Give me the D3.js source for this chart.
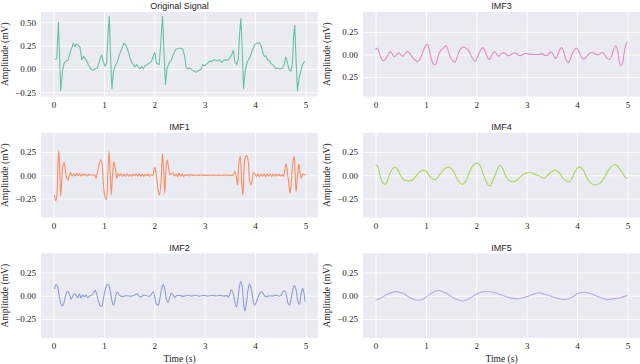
<!DOCTYPE html>
<html>
<head>
<meta charset="utf-8">
<style>
body { margin: 0; background: #fff; }
.grid line { stroke: #fff; stroke-width: 0.9; }
.grid path { display: none; }
.axis path { display: none; }
.axis text { font-family: "Liberation Serif", "DejaVu Serif", serif; font-size: 9px; fill: #262626; }
.title { font-family: "Liberation Sans", "DejaVu Sans", sans-serif; font-size: 9px; fill: #262626; }
.label { font-family: "Liberation Serif", "DejaVu Serif", serif; font-size: 9.5px; fill: #262626; }
</style>
</head>
<body>
<svg width="640" height="364"></svg>
<script src="https://cdn.jsdelivr.net/npm/d3@7"></script>
<script>
// values, [time (s), amplitude (mV)]
var original = [
  [0.017,0.106],[0.063,0.106],[0.096,0.50],[0.142,-0.236],[0.175,-0.025],[0.208,0.063],[0.248,0.081],[0.294,0.099],
  [0.314,0.151],[0.347,0.204],[0.393,0.275],[0.419,0.239],[0.446,0.268],[0.492,0.257],[0.525,0.232],[0.558,0.099],
  [0.591,0.134],[0.644,0.099],[0.690,0.046],[0.736,0.0],[0.776,-0.014],[0.822,0.0],[0.868,0.011],[0.908,0.081],
  [0.954,0.151],[0.987,0.081],[1.020,0.028],[1.053,0.063],[1.086,0.415],[1.106,0.563],[1.132,0.134],[1.158,-0.211],
  [1.185,-0.042],[1.218,0.028],[1.264,0.070],[1.304,0.151],[1.350,0.211],[1.396,0.275],[1.436,0.257],[1.482,0.187],
  [1.528,0.099],[1.581,0.046],[1.614,0.021],[1.647,0.046],[1.680,0.021],[1.713,0.0],[1.746,0.028],[1.779,0.0],
  [1.812,0.035],[1.858,0.046],[1.898,0.063],[1.944,0.081],[1.977,0.134],[2.010,0.176],[2.043,0.063],[2.096,0.046],
  [2.129,0.275],[2.162,0.563],[2.188,0.239],[2.221,-0.165],[2.254,0.011],[2.294,0.063],[2.340,0.099],[2.373,0.151],
  [2.419,0.204],[2.472,0.222],[2.531,0.222],[2.564,0.211],[2.597,0.151],[2.630,0.021],[2.663,0.0],[2.696,0.011],
  [2.743,-0.007],[2.795,-0.025],[2.828,-0.035],[2.875,-0.018],[2.927,-0.007],[2.960,0.046],[3.007,0.035],[3.046,0.056],
  [3.092,0.081],[3.139,0.081],[3.191,0.099],[3.244,0.088],[3.290,0.099],[3.337,0.070],[3.389,0.099],[3.442,0.092],
  [3.488,0.106],[3.535,0.151],[3.568,0.197],[3.601,0.081],[3.635,0.046],[3.667,0.099],[3.693,0.380],[3.719,0.539],
  [3.746,0.204],[3.772,-0.211],[3.805,-0.025],[3.838,0.063],[3.871,0.099],[3.904,0.134],[3.950,0.204],[3.997,0.264],
  [4.036,0.275],[4.083,0.282],[4.116,0.257],[4.149,0.187],[4.182,0.134],[4.214,0.141],[4.248,0.099],[4.281,0.092],
  [4.314,0.063],[4.347,0.046],[4.380,0.028],[4.413,0.0],[4.446,0.011],[4.498,0.0],[4.545,0.011],[4.578,0.046],
  [4.611,0.127],[4.644,0.063],[4.677,-0.007],[4.710,-0.025],[4.743,0.063],[4.769,0.380],[4.789,0.468],[4.809,0.169],
  [4.842,-0.236],[4.875,-0.095],[4.908,-0.025],[4.941,0.046],[4.974,0.074],[5.0,0.081]
];
var imf1 = [
  [0.017,-0.214],[0.043,-0.275],[0.063,-0.232],[0.083,0.058],[0.102,0.268],[0.122,0.058],[0.142,-0.225],[0.162,-0.051],
  [0.182,0.094],[0.208,0.138],[0.234,0.058],[0.261,-0.033],[0.287,-0.051],[0.314,0.004],[0.340,0.029],[0.366,-0.007],
  [0.40,0.015],[0.43,-0.01],[0.46,0.02],[0.49,-0.005],[0.52,0.018],[0.55,-0.01],[0.58,0.015],[0.61,0.0],[0.64,0.012],
  [0.67,-0.008],[0.70,0.01],[0.73,0.0],[0.76,0.008],[0.79,0.0],[0.82,0.004],
  [0.842,-0.033],[0.868,0.022],[0.894,0.094],[0.934,0.167],[0.960,0.130],[0.987,-0.087],[1.020,-0.232],[1.046,-0.261],
  [1.073,-0.051],[1.099,0.257],[1.125,0.022],[1.145,-0.214],[1.172,0.022],[1.198,0.141],[1.224,0.076],[1.257,-0.033],
  [1.284,0.022],[1.31,-0.01],[1.34,0.015],[1.37,-0.012],[1.40,0.012],[1.43,-0.01],[1.46,0.015],[1.49,-0.012],[1.52,0.01],
  [1.55,-0.01],[1.58,0.012],[1.61,-0.008],[1.64,0.014],[1.67,-0.01],[1.70,0.012],[1.73,-0.01],[1.76,0.01],[1.79,-0.012],
  [1.82,0.01],[1.85,-0.005],[1.88,0.012],[1.91,-0.01],[1.94,0.005],[1.97,0.0],
  [2.010,0.087],[2.043,-0.014],[2.076,-0.159],[2.102,-0.214],[2.135,-0.051],[2.162,0.232],[2.188,0.022],[2.208,-0.196],
  [2.228,0.022],[2.254,0.167],[2.281,0.094],[2.307,0.004],[2.340,0.022],[2.373,0.022],
  [2.40,-0.01],[2.43,0.015],[2.46,-0.015],[2.49,0.02],[2.52,-0.01],[2.55,0.012],[2.58,-0.012],[2.61,0.008],[2.64,-0.005],
  [2.67,0.01],[2.70,-0.008],[2.73,0.01],[2.76,-0.005],[2.79,0.008],[2.82,-0.004],[2.85,0.006],[2.88,-0.004],[2.91,0.005],
  [2.94,-0.003],[2.97,0.004],[3.0,-0.003],[3.03,0.004],[3.06,-0.004],[3.09,0.005],[3.12,-0.003],[3.15,0.004],[3.18,-0.004],
  [3.21,0.003],[3.24,-0.005],[3.27,0.004],[3.30,-0.004],[3.33,0.006],[3.36,-0.005],[3.39,0.006],[3.42,-0.004],[3.45,0.006],
  [3.48,-0.004],[3.51,0.004],[3.54,-0.005],[3.57,0.005],
  [3.601,0.04],[3.627,-0.014],[3.653,-0.105],[3.680,0.130],[3.706,0.203],[3.733,-0.051],[3.759,-0.214],[3.785,0.094],
  [3.812,0.203],[3.838,0.210],[3.865,0.148],[3.891,-0.051],[3.918,-0.105],[3.944,-0.051],[3.970,0.029],[3.997,0.014],
  [4.03,-0.012],[4.06,0.015],[4.09,-0.015],[4.12,0.012],[4.15,-0.012],[4.18,0.015],[4.21,-0.015],[4.24,0.012],[4.27,-0.01],
  [4.30,0.014],[4.33,-0.012],[4.36,0.012],[4.39,-0.01],[4.42,0.012],[4.45,-0.008],[4.48,0.01],[4.51,-0.01],[4.54,0.008],
  [4.564,-0.014],[4.591,0.058],[4.617,0.123],[4.644,0.022],[4.670,-0.087],[4.696,-0.196],[4.723,-0.051],[4.749,0.130],
  [4.776,0.203],[4.795,0.022],[4.815,-0.177],[4.842,-0.014],[4.868,0.120],[4.894,0.022],[4.921,-0.033],[4.947,0.014],
  [4.974,0.004],[5.0,0.011]
];
var imf2 = [
  [0.017,0.072],[0.050,0.120],[0.083,0.091],[0.116,-0.018],[0.149,-0.091],[0.182,-0.109],[0.215,-0.054],[0.248,0.018],
  [0.281,0.051],[0.314,0.018],[0.347,-0.036],[0.380,-0.007],[0.413,0.022],[0.446,0.007],[0.479,-0.025],[0.512,0.022],
  [0.545,-0.025],[0.578,0.007],[0.611,-0.011],[0.644,0.007],[0.677,-0.022],[0.723,0.0],[0.756,0.007],[0.789,0.029],
  [0.822,0.062],[0.855,0.018],[0.888,-0.054],[0.921,-0.101],[0.954,-0.116],[0.987,-0.036],[1.020,0.054],[1.053,0.109],
  [1.086,0.127],[1.119,0.072],[1.152,-0.036],[1.185,-0.101],[1.218,-0.054],[1.251,0.029],[1.271,0.036],[1.304,0.007],
  [1.350,-0.007],[1.449,0.0],[1.548,-0.004],[1.614,0.007],[1.660,0.022],[1.700,-0.007],[1.746,-0.011],[1.792,0.007],
  [1.845,0.0],[1.911,-0.004],[1.944,0.018],[1.977,0.043],[2.010,-0.018],[2.043,-0.091],[2.076,-0.101],[2.109,-0.036],
  [2.142,0.072],[2.175,0.120],[2.208,0.072],[2.241,-0.036],[2.274,-0.072],[2.307,-0.018],[2.340,0.029],[2.373,0.007],
  [2.406,-0.018],[2.439,0.0],[2.50,0.004],[2.58,-0.007],[2.66,0.005],[2.74,-0.004],[2.82,0.006],[2.90,-0.005],
  [2.98,0.004],[3.06,-0.004],[3.14,0.006],[3.22,-0.003],[3.30,0.004],[3.38,-0.004],[3.45,0.0],
  [3.462,-0.018],[3.495,0.007],[3.528,0.065],[3.561,0.036],[3.594,-0.054],[3.627,-0.120],[3.660,-0.036],[3.693,0.109],
  [3.719,0.152],[3.746,0.091],[3.772,-0.072],[3.799,-0.163],[3.825,-0.091],[3.858,0.054],[3.891,0.127],[3.924,0.072],
  [3.957,-0.036],[3.990,-0.101],[4.023,-0.072],[4.056,-0.018],[4.089,0.022],[4.122,0.043],[4.155,0.029],[4.188,0.0],
  [4.221,-0.011],[4.287,0.0],[4.353,-0.004],[4.419,0.007],[4.472,-0.004],[4.518,0.007],[4.551,0.043],[4.584,0.054],
  [4.617,0.018],[4.650,-0.072],[4.683,-0.101],[4.716,-0.036],[4.749,0.065],[4.782,0.109],[4.815,0.065],[4.848,-0.054],
  [4.881,-0.091],[4.914,0.018],[4.947,0.080],[4.974,0.018],[4.994,-0.065]
];
var imf3 = [
  [0,0.054],[0.033,0.072],[0.066,0.029],[0.100,-0.025],[0.146,-0.068],[0.193,-0.054],[0.246,-0.007],[0.293,0.032],
  [0.332,0.004],[0.372,-0.025],[0.412,-0.007],[0.465,0.018],[0.505,-0.007],[0.545,-0.018],[0.592,0.011],[0.638,0.032],
  [0.678,0.011],[0.731,-0.032],[0.785,-0.061],[0.831,-0.079],[0.878,-0.054],[0.931,0.011],[0.984,0.090],[1.031,0.111],
  [1.064,0.054],[1.104,-0.043],[1.144,-0.104],[1.184,-0.115],[1.223,-0.061],[1.263,0.018],[1.310,0.054],[1.356,0.076],
  [1.396,0.097],[1.436,0.054],[1.476,-0.018],[1.529,-0.068],[1.576,-0.086],[1.622,-0.025],[1.676,0.054],[1.742,0.083],
  [1.809,0.065],[1.862,0.029],[1.915,-0.032],[1.975,-0.079],[2.021,-0.032],[2.074,0.040],[2.128,0.076],[2.174,0.040],
  [2.221,-0.032],[2.261,-0.054],[2.307,-0.007],[2.354,0.032],[2.394,0.011],[2.440,-0.018],[2.487,0.004],[2.540,0.018],
  [2.586,0.004],[2.626,-0.014],[2.673,-0.007],[2.726,0.011],[2.773,0.018],[2.826,-0.004],[2.872,-0.014],[2.919,-0.004],
  [2.965,0.011],[3.039,0.004],[3.138,0.0],[3.238,0.0],[3.305,0.007],[3.351,-0.007],[3.404,-0.011],[3.444,0.011],
  [3.484,0.029],[3.524,0.004],[3.570,-0.043],[3.617,-0.007],[3.657,0.054],[3.697,0.076],[3.737,0.029],[3.783,-0.061],
  [3.830,-0.090],[3.870,-0.043],[3.923,0.029],[3.983,0.072],[4.029,0.040],[4.082,-0.025],[4.136,-0.054],[4.189,-0.025],
  [4.242,0.011],[4.295,0.025],[4.348,0.011],[4.402,-0.004],[4.455,0.004],[4.501,0.025],[4.548,-0.004],[4.601,-0.043],
  [4.641,-0.054],[4.681,-0.025],[4.721,0.047],[4.767,0.097],[4.801,0.054],[4.834,-0.061],[4.867,-0.126],[4.900,-0.104],
  [4.934,0.011],[4.967,0.101],[5.0,0.137]
];
var imf4 = [
  [0,0.112],[0.04,0.094],[0.087,0.004],[0.133,-0.069],[0.187,-0.098],[0.233,-0.062],[0.287,0.022],[0.347,0.076],
  [0.4,0.087],[0.453,0.047],[0.507,-0.014],[0.573,-0.051],[0.653,-0.062],[0.733,-0.051],[0.833,0.011],[0.9,0.047],
  [0.987,0.051],[1.08,-0.014],[1.187,-0.047],[1.267,0.004],[1.367,0.069],[1.467,0.087],[1.547,0.040],[1.633,-0.051],
  [1.72,-0.098],[1.787,-0.069],[1.867,0.040],[1.947,0.112],[2.02,0.130],[2.067,0.112],[2.133,0.022],[2.2,-0.069],
  [2.267,-0.116],[2.333,-0.051],[2.4,0.040],[2.467,0.105],[2.52,0.076],[2.587,-0.014],[2.667,-0.062],[2.733,-0.069],
  [2.813,-0.051],[2.9,-0.004],[2.987,0.022],[3.067,0.033],[3.167,0.011],[3.267,-0.014],[3.347,-0.033],[3.433,0.011],
  [3.52,0.047],[3.587,0.054],[3.653,0.022],[3.733,-0.040],[3.833,-0.072],[3.9,-0.033],[3.967,0.047],[4.04,0.090],
  [4.12,0.058],[4.2,-0.033],[4.28,-0.087],[4.367,-0.105],[4.453,-0.087],[4.533,-0.033],[4.613,0.047],[4.7,0.101],
  [4.76,0.116],[4.813,0.094],[4.88,0.040],[4.947,-0.014],[5.0,-0.036]
];
var imf5 = [
  [0,-0.048],[0.113,-0.022],[0.245,0.019],[0.411,0.044],[0.544,0.026],[0.676,-0.019],[0.809,-0.048],[0.942,-0.037],
  [1.074,0.015],[1.240,0.056],[1.406,0.026],[1.572,-0.030],[1.737,-0.056],[1.870,-0.030],[2.003,0.019],[2.202,0.048],
  [2.401,0.026],[2.599,-0.011],[2.798,-0.033],[2.931,-0.022],[3.097,0.007],[3.229,0.033],[3.395,0.011],[3.561,-0.019],
  [3.760,-0.041],[3.893,-0.019],[4.025,0.026],[4.158,0.037],[4.290,0.019],[4.456,-0.019],[4.589,-0.041],[4.721,-0.033],
  [4.854,-0.022],[5.0,0.004]
];

var xTicks = [0, 1, 2, 3, 4, 5];
var yTicksOrig = [-0.25, 0, 0.25, 0.5];
var yLabelsOrig = ["\u22120.25", "0.00", "0.25", "0.50"];
var yTicksImf = [-0.25, 0, 0.25];
var yLabelsImf = ["\u22120.25", "0.00", "0.25"];
var yLabelsImf3 = ["0.25", "0.00", "0.25"];  // reference drops the minus here

var svg = d3.select("svg");
var colX = [41, 363], rowY = [12, 133, 253.5], pw = 277, ph = 84.5;

var panels = [
  {title: "Original Signal", data: original, color: "#66c2a5", col: 0, row: 0, dom: [-0.295, 0.61], ticks: yTicksOrig, labels: yLabelsOrig, curve: d3.curveLinear},
  {title: "IMF1", data: imf1, color: "#fc8d62", col: 0, row: 1, dom: [-0.455, 0.455], ticks: yTicksImf, labels: yLabelsImf, curve: d3.curveCatmullRom},
  {title: "IMF2", data: imf2, color: "#8da0cb", col: 0, row: 2, dom: [-0.455, 0.455], ticks: yTicksImf, labels: yLabelsImf, curve: d3.curveCatmullRom},
  {title: "IMF3", data: imf3, color: "#e78ac3", col: 1, row: 0, dom: [-0.465, 0.47], ticks: yTicksImf, labels: yLabelsImf3, curve: d3.curveCatmullRom},
  {title: "IMF4", data: imf4, color: "#a6d854", col: 1, row: 1, dom: [-0.455, 0.455], ticks: yTicksImf, labels: yLabelsImf, curve: d3.curveCatmullRom},
  {title: "IMF5", data: imf5, color: "#bba9da", col: 1, row: 2, dom: [-0.455, 0.455], ticks: yTicksImf, labels: yLabelsImf, curve: d3.curveCatmullRom}
];

panels.forEach(function(p) {
  var g = svg.append("g").attr("transform", "translate(" + colX[p.col] + "," + rowY[p.row] + ")");
  var x = d3.scaleLinear().domain([-0.25, 5.25]).range([0, pw]);
  var y = d3.scaleLinear().domain(p.dom).range([ph, 0]);

  g.append("rect").attr("width", pw).attr("height", ph).attr("fill", "#eaeaf2");

  g.append("g").attr("class", "grid")
      .attr("transform", "translate(0," + ph + ")")
      .call(d3.axisBottom(x).tickValues(xTicks).tickSize(-ph).tickFormat(""));
  g.append("g").attr("class", "grid")
      .call(d3.axisLeft(y).tickValues(p.ticks).tickSize(-pw).tickFormat(""));

  var line = d3.line()
      .x(function(d) { return x(d[0]); })
      .y(function(d) { return y(d[1]); })
      .curve(p.curve);
  g.append("path")
      .datum(p.data)
      .attr("fill", "none")
      .attr("stroke", p.color)
      .attr("stroke-width", 1.1)
      .attr("stroke-linejoin", "round")
      .attr("d", line);

  var ax = g.append("g").attr("class", "axis")
      .attr("transform", "translate(0," + ph + ")")
      .call(d3.axisBottom(x).tickValues(xTicks).tickSize(0).tickPadding(5).tickFormat(d3.format("d")));
  g.append("g").attr("class", "axis")
      .call(d3.axisLeft(y).tickValues(p.ticks).tickSize(0).tickPadding(5)
        .tickFormat(function(d, i) { return p.labels[i]; }));

  g.append("text").attr("class", "title")
      .attr("x", pw / 2).attr("y", -3)
      .attr("text-anchor", "middle")
      .text(p.title);

  g.append("text").attr("class", "label")
      .attr("transform", "translate(-36," + (ph / 2) + ") rotate(-90)")
      .attr("dy", "0.35em")
      .attr("text-anchor", "middle")
      .text("Amplitude (mV)");

  if (p.row === 2) {
    g.append("text").attr("class", "label")
        .attr("x", pw / 2).attr("y", ph + 23.5)
        .attr("text-anchor", "middle")
        .text("Time (s)");
  }
});
</script>
</body>
</html>
